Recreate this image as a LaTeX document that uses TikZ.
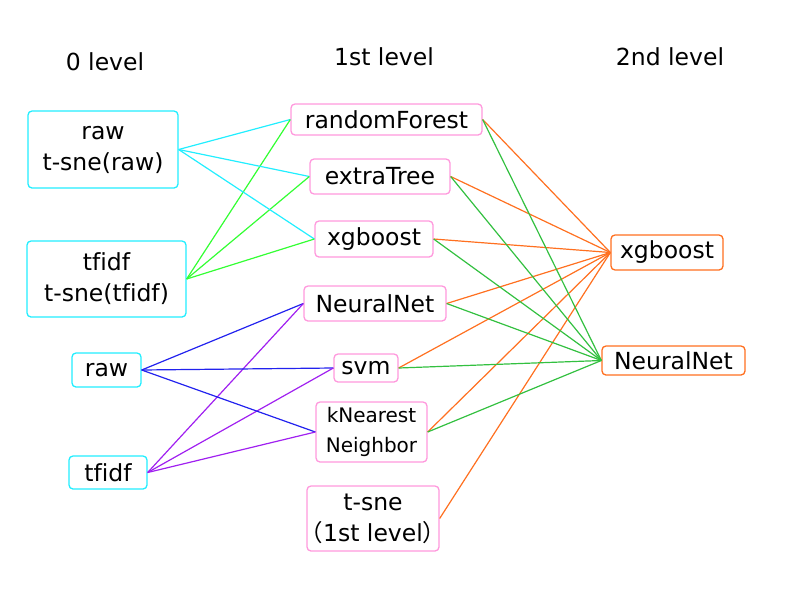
\documentclass[tikz,border=0pt]{standalone}
\usepackage{fontspec}
\setmainfont[Ligatures=NoCommon]{DejaVu Sans}
\newfontfamily\cjk{Noto Sans CJK JP}
\definecolor{cy}{HTML}{22EEFF}
\definecolor{pk}{HTML}{FF99DD}
\definecolor{og}{HTML}{FF7020}
\definecolor{gb}{HTML}{33FF33}
\definecolor{gd}{HTML}{33C040}
\definecolor{bl}{HTML}{2222EE}
\definecolor{pu}{HTML}{A020F0}
\begin{document}
\begin{tikzpicture}[x=1pt,y=-1pt,
  box/.style={draw,rounded corners=4pt,line width=1.3pt,fill=white,inner sep=0pt,align=center,
    font=\fontsize{23.5}{31}\selectfont},
  lz/.style={box,draw=cy},
  l1/.style={box,draw=pk},
  l2/.style={box,draw=og},
  ttl/.style={font=\fontsize{23.5}{31}\selectfont,inner sep=0pt},
  ln/.style={line width=1.2pt}]
\useasboundingbox (0,0) rectangle (800,600);
\node[ttl] (t0) at (105,62) {0 level};
\node[ttl] (t1) at (384,57) {1st level};
\node[ttl] (t2) at (670,57) {2nd level};
% level 0
\node[lz,minimum width=150,minimum height=77] (a1) at (103,149.5) {raw\\t-sne(raw)};
\node[lz,minimum width=159,minimum height=76] (a2) at (106.5,279) {tfidf\\t-sne(tfidf)};
\node[lz,minimum width=69,minimum height=34] (a3) at (106.5,370) {raw};
\node[lz,minimum width=78,minimum height=33] (a4) at (108,472.5) {tfidf};
% level 1
\node[l1,minimum width=191,minimum height=31] (rf) at (386.5,119.5) {randomForest};
\node[l1,minimum width=140,minimum height=35] (et) at (380,176.5) {extraTree};
\node[l1,minimum width=118,minimum height=36] (xg) at (374,239) {xgboost};
\node[l1,minimum width=142,minimum height=35] (nn) at (375,303.5) {NeuralNet};
\node[l1,minimum width=64,minimum height=28] (sv) at (366,368) {svm};
\node[l1,minimum width=111,minimum height=60,font=\fontsize{20}{30}\selectfont] (kn) at (371.5,432) {kNearest\\Neighbor};
\node[l1,minimum width=132,minimum height=65] (ts) at (373,518.5) {t-sne\\\makebox[120pt][c]{{\cjk （}1st level{\cjk ）}}};
% level 2
\node[l2,minimum width=112,minimum height=35] (x2) at (667,252.5) {xgboost};
\node[l2,minimum width=143,minimum height=29] (n2) at (673.5,360.5) {NeuralNet};
% edges
\foreach \t in {rf,et,xg} {
  \draw[ln,cy] (a1.east) -- (\t.west);
  \draw[ln,gb] (a2.east) -- (\t.west);
}
\foreach \t in {nn,sv,kn} {
  \draw[ln,bl] (a3.east) -- (\t.west);
  \draw[ln,pu] (a4.east) -- (\t.west);
}
\foreach \s in {rf,et,xg,nn,sv,kn,ts} {
  \draw[ln,og] (\s.east) -- (x2.west);
}
\foreach \s in {rf,et,xg,nn,sv,kn} {
  \draw[ln,gd] (\s.east) -- (n2.west);
}
\end{tikzpicture}
\end{document}
